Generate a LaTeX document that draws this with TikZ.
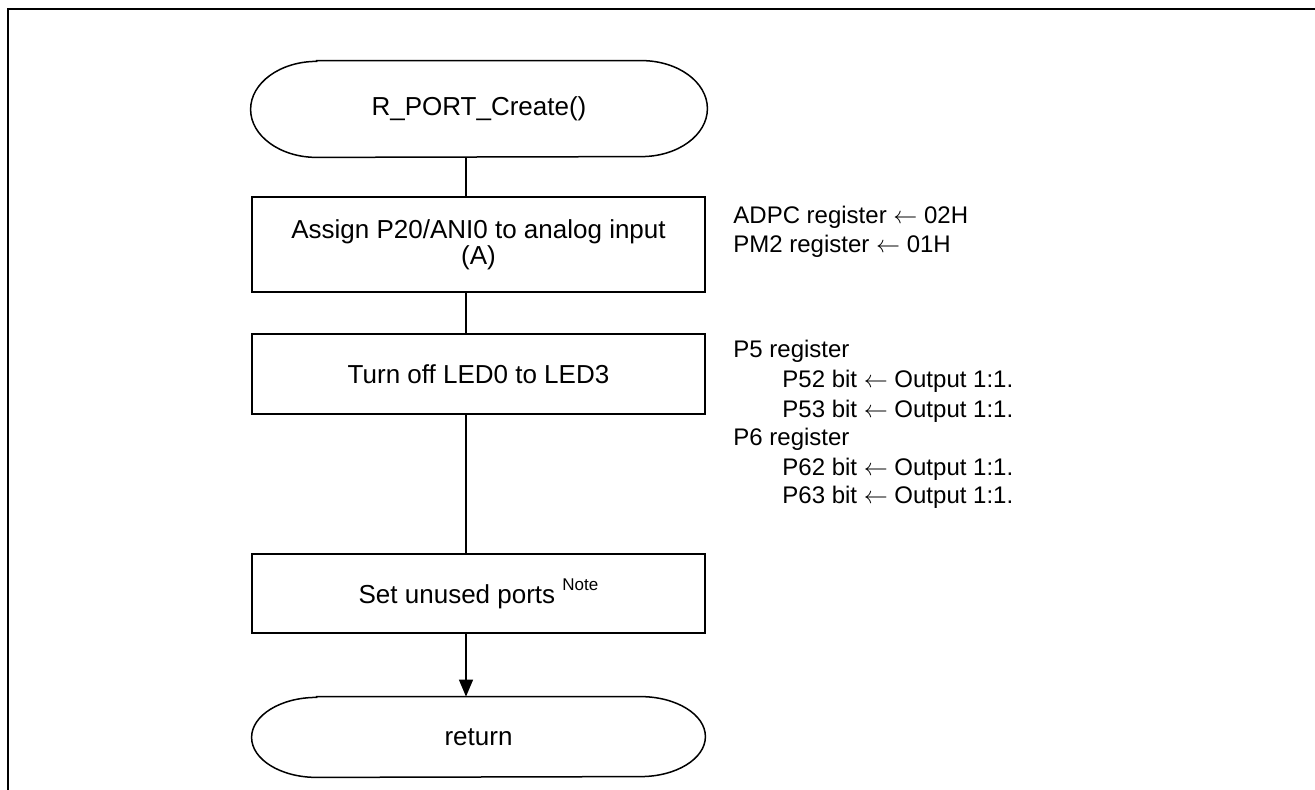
\documentclass[tikz,border=0pt]{standalone}
\usepackage{fontspec}
\setmainfont{Liberation Sans}
\usetikzlibrary{arrows.meta,calc}
\newcommand{\larr}{\(\leftarrow\)}
\begin{document}
\begin{tikzpicture}[x=0.5pt,y=0.5pt,
  box/.style={draw, line width=0.75pt, minimum width=226.5pt, inner sep=0pt,
    font=\fontsize{13}{11}\selectfont, align=center},
  term/.style={inner sep=0pt, font=\fontsize{13}{15}\selectfont},
  outline/.style={line width=0.75pt},
  note/.style={anchor=base west, inner sep=0pt, font=\fontsize{12}{14}\selectfont},
  conn/.style={line width=0.75pt}]
\useasboundingbox (0,0) rectangle (1315,-790);
\fill[white] (0,0) rectangle (1315,-790);
\draw[line width=1.1pt] (8,-790) -- (8,-9) -- (1315,-9);

% start terminal
\node[term, minimum width=228pt, minimum height=48pt] (start) at (479,-109) {R\_PORT\_Create()};
\draw[outline] ([xshift=33pt]start.north west) -- ([xshift=-33pt]start.north east)
  arc[start angle=90,end angle=-90,x radius=33pt,y radius=24pt]
  -- ([xshift=33pt]start.south west)
  arc[start angle=270,end angle=90,x radius=33pt,y radius=24pt] -- cycle;

% process boxes
\node[box, minimum height=47.5pt] (b1) at (478.5,-244.5) {\raisebox{-1.5pt}{Assign P20/ANI0 to analog input}\\\raisebox{-1.5pt}{(A)}};
\node[box, minimum height=40pt] (b2) at (478.5,-374) {Turn off LED0 to LED3};
\node[box, minimum height=39.5pt] (b3) at (478.5,-593.5) {Set unused ports {\fontsize{8.5}{10}\selectfont\raisebox{6.5pt}{Note}}};

% return terminal
\node[term, minimum width=226.5pt, minimum height=40pt] (ret) at (478.5,-737) {return};
\draw[outline] ([xshift=32.5pt]ret.north west) -- ([xshift=-32.5pt]ret.north east)
  arc[start angle=90,end angle=-90,x radius=32.5pt,y radius=20pt]
  -- ([xshift=32.5pt]ret.south west)
  arc[start angle=270,end angle=90,x radius=32.5pt,y radius=20pt] -- cycle;

% connectors
\coordinate (cx) at (466,0);
\draw[conn] (start.south -| cx) -- (b1.north -| cx);
\draw[conn] (b1.south -| cx) -- (b2.north -| cx);
\draw[conn] (b2.south -| cx) -- (b3.north -| cx);
\draw[conn, -{Triangle[length=8.5pt,width=7pt]}] (b3.south -| cx) -- (ret.north -| cx);

% comments
\node[note] (n1) at (733,-224) {ADPC register \larr{} 02H};
\node[note] (n2) at (733,-253) {PM2 register \larr{} 01H};
\node[note] (n3) at (733,-358) {P5 register};
\node[note] (n4) at (782,-388) {P52 bit \larr{} Output 1:1.};
\node[note] (n5) at (782,-417) {P53 bit \larr{} Output 1:1.};
\node[note] (n6) at (733,-445) {P6 register};
\node[note] (n7) at (782,-475) {P62 bit \larr{} Output 1:1.};
\node[note] (n8) at (782,-503) {P63 bit \larr{} Output 1:1.};
\end{tikzpicture}
\end{document}
